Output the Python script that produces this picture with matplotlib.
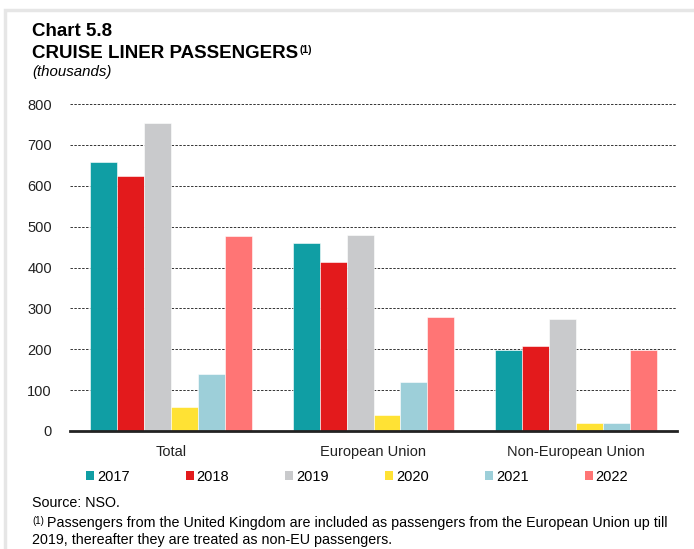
import numpy as np
import matplotlib.pyplot as plt
from matplotlib.patches import Rectangle, Patch

plt.rcParams['font.family'] = ['Liberation Sans', 'DejaVu Sans']

categories = ['Total', 'European Union', 'Non-European Union']
years = ['2017', '2018', '2019', '2020', '2021', '2022']
values = {
    '2017': [658, 461, 197],
    '2018': [623, 413, 209],
    '2019': [754, 480, 274],
    '2020': [59, 39, 20],
    '2021': [139, 120, 19],
    '2022': [478, 278, 199],
}
colors = ['#109ea4', '#e31a1c', '#c9cacc', '#ffe234', '#9dcfd9', '#ff7575']
yticks = [0, 100, 200, 300, 400, 500, 600, 700, 800]

fig = plt.figure(figsize=(6.94, 5.49), dpi=100)
ax = fig.add_axes([70 / 694, 1 - 431 / 549, 607 / 694, 327 / 549])

x = np.arange(len(categories))
w = 0.8 / len(years)
for i, yr in enumerate(years):
    ax.bar(x - 0.4 + w * (i + 0.5), values[yr], width=w, color=colors[i],
           edgecolor='white', linewidth=0.4, zorder=3, label=yr)

ax.set_xlim(-0.5, 2.5)
ax.set_ylim(0, 800)
ax.set_yticks(yticks)
ax.set_xticks(x)
ax.set_xticklabels(categories)
ax.tick_params(length=0, labelsize=10.5, colors='#222222')
ax.tick_params(axis='y', pad=13)
ax.tick_params(axis='x', pad=10)
ax.grid(axis='y', linestyle=(0, (2.5, 1.5)), color='#333333', linewidth=0.7, zorder=0)
for s in ['left', 'right', 'top']:
    ax.spines[s].set_visible(False)
ax.spines['bottom'].set_linewidth(2)
ax.spines['bottom'].set_color('#222222')
ax.spines['bottom'].set_zorder(4)

# titles
fig.text(32 / 694, 1 - 32 / 549, 'Chart 5.8', fontsize=13.5, fontweight='bold', va='center')
fig.text(32 / 694, 1 - 54 / 549, 'CRUISE LINER PASSENGERS', fontsize=13.5,
         fontweight='bold', va='center')
fig.text(300 / 694, 1 - 50 / 549, '(1)', fontsize=7.5, fontweight='bold', va='center')
fig.text(32 / 694, 1 - 72 / 549, '(thousands)', fontsize=10.8, style='italic', va='center')

# legend
handles = [Patch(facecolor=c, label=y) for c, y in zip(colors, years)]
fig.legend(handles=handles, loc='center', bbox_to_anchor=(357 / 694, 1 - 477 / 549),
           ncol=6, frameon=False, fontsize=10.5, handlelength=0.55, handleheight=0.55,
           handletextpad=0.2, columnspacing=3.85, borderpad=0)

fig.text(32 / 694, 1 - 503 / 549, 'Source: NSO.', fontsize=10.3, va='center')
fig.text(32 / 694, 1 - 521 / 549, '(1)', fontsize=7, va='center')
fig.text(47 / 694, 1 - 523 / 549,
         'Passengers from the United Kingdom are included as passengers from the European Union up till',
         fontsize=10.3, va='center')
fig.text(32 / 694, 1 - 540 / 549, '2019, thereafter they are treated as non-EU passengers.',
         fontsize=10.3, va='center')

# light frame around the chart
fig.patches.append(Rectangle((5 / 694, -0.1), 1.2, 1 - 10 / 549 + 0.1,
                             transform=fig.transFigure, fill=False,
                             edgecolor='#e6e6e6', linewidth=2.5))

fig.savefig('out.png', dpi=100)
